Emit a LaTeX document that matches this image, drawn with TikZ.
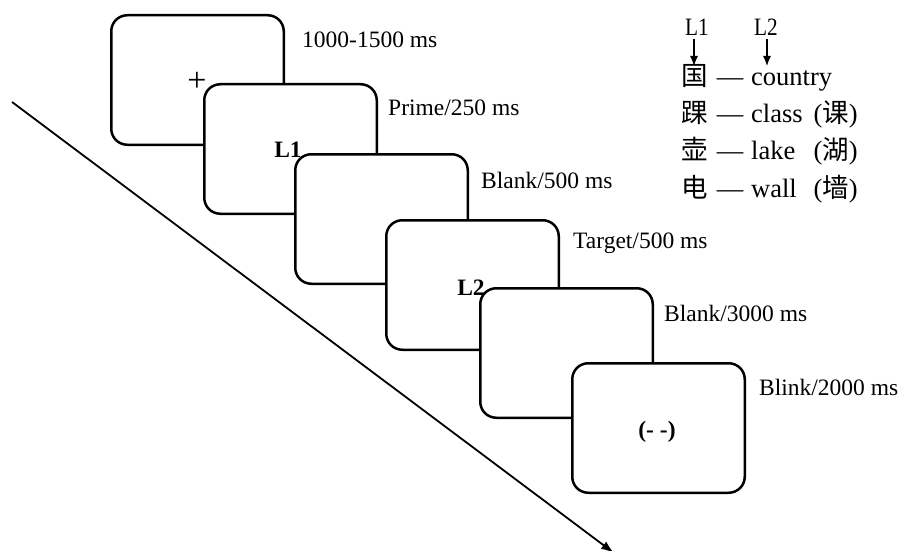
\documentclass[tikz,border=0pt]{standalone}
\usepackage{fontspec}
\setmainfont{Liberation Serif}
\newfontfamily\cjk{Noto Sans CJK SC}
\usetikzlibrary{arrows.meta}
\begin{document}
\begin{tikzpicture}[x=1pt,y=-1pt,
  screen/.style={draw,line width=2.5pt,fill=white,rounded corners=16pt,
    minimum width=172.5pt,minimum height=129.5pt,inner sep=0pt},
  lab/.style={anchor=west,font=\fontsize{23.5}{28}\selectfont,inner sep=0pt},
  leg/.style={font=\fontsize{26.5}{30}\selectfont,inner sep=0pt,anchor=base},
  legl/.style={font=\fontsize{25}{27}\selectfont,inner sep=0pt,anchor=base,xscale=0.85},
  boxtext/.style={font=\bfseries\fontsize{23.5}{28}\selectfont,inner sep=0pt},
  legarrow/.style={line width=1.2pt,-{Latex[length=10pt,width=8pt]}},
  timearrow/.style={line width=1.8pt,-{Latex[length=13pt,width=9pt]}}]
\useasboundingbox (0,0) rectangle (906,551);
% time axis
\coordinate (ts) at (12,102);
\coordinate (te) at (614,553);
\draw[timearrow] (ts) -- (te);
% screens
\node[screen] (b1) at (197.5,80) {};
\node[font=\fontsize{34}{38}\selectfont,inner sep=0pt] (plus) at (197,82) {+};
\node[screen] (b2) at (290.5,149) {};
\node[boxtext] (m1) at (288,150) {L1};
\node[screen] (b3) at (381.5,219) {};
\node[screen] (b4) at (472.5,285) {};
\node[boxtext] (m2) at (471,288) {L2};
\node[screen] (b5) at (566.5,353) {};
\node[screen] (b6) at (658.5,428) {};
\node[boxtext] (m3) at (657,432) {(- -)};
% durations
\node[lab] (t1) at (302,40) {1000-1500 ms};
\node[lab] (t2) at (388,108) {Prime/250 ms};
\node[lab] (t3) at (481,180) {Blank/500 ms};
\node[lab] (t4) at (573,243) {Target/500 ms};
\node[lab] (t5) at (664,313) {Blank/3000 ms};
\node[lab] (t6) at (759,387) {Blink/2000 ms};
% legend
\node[legl] (l1) at (697,36) {L1};
\node[legl] (l2) at (766,36) {L2};
\node[leg] (c1) at (695,85) {\cjk 国};
\node[leg] (c2) at (695,123) {\cjk 踝};
\node[leg] (c3) at (695,160) {\cjk 壶};
\node[leg] (c4) at (695,197) {\cjk 电};
\node[leg] (d1) at (730,85) {—};
\node[leg] (d2) at (730,123) {—};
\node[leg] (d3) at (730,160) {—};
\node[leg] (d4) at (730,197) {—};
\node[leg,anchor=base west] (e1) at (751,85) {country};
\node[leg,anchor=base west] (e2) at (751,123) {class};
\node[leg,anchor=base west] (e3) at (751,160) {lake};
\node[leg,anchor=base west] (e4) at (751,197) {wall};
\node[leg,anchor=base east] (p2) at (858,123) {(\cjk 课\rmfamily)};
\node[leg,anchor=base east] (p3) at (858,160) {(\cjk 湖\rmfamily)};
\node[leg,anchor=base east] (p4) at (858,197) {(\cjk 墙\rmfamily)};
\coordinate (a1) at (694,66);
\coordinate (a2) at (767,66);
\draw[legarrow] ([yshift=-3pt]l1.south -| a1) -- (a1);
\draw[legarrow] ([yshift=-3pt]l2.south -| a2) -- (a2);
\end{tikzpicture}
\end{document}
